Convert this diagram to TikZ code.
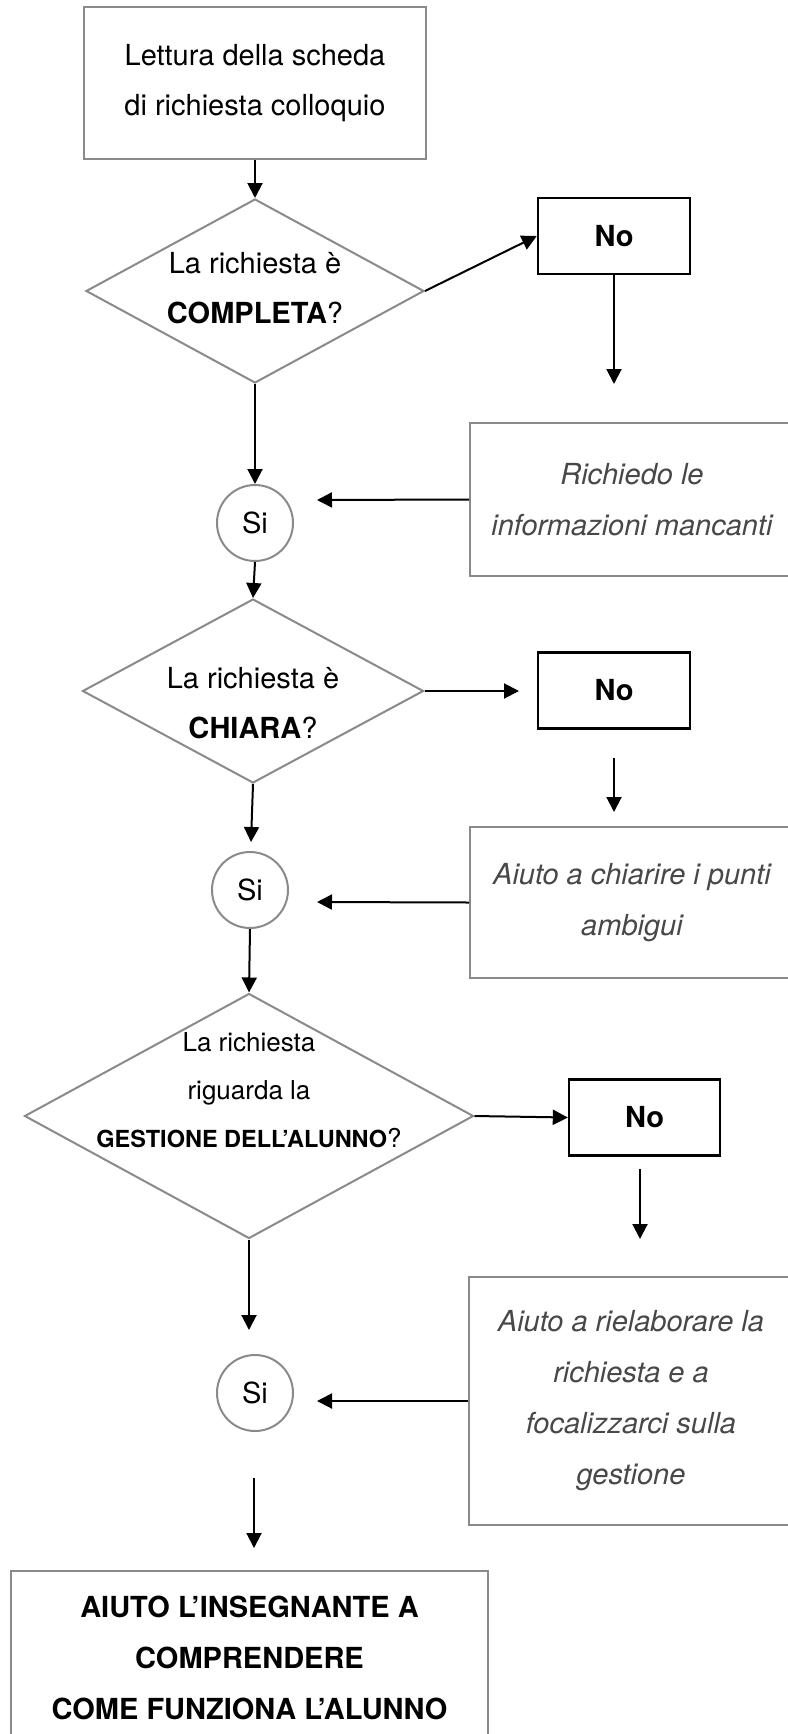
\documentclass[tikz,border=0pt]{standalone}
\usepackage{fontspec}
\setmainfont{TeX Gyre Heros}
\usetikzlibrary{shapes.geometric,arrows.meta,positioning}

\definecolor{boxgray}{RGB}{138,138,142}
\definecolor{notegray}{RGB}{72,72,72}

\tikzset{
  base/.style={font=\fontsize{14.5pt}{25pt}\selectfont, align=center, inner sep=0pt},
  box/.style={base, rectangle, draw=boxgray, line width=1pt},
  nobox/.style={base, rectangle, draw=black, line width=1.2pt,
    minimum width=76pt, minimum height=38pt,
    font=\fontsize{14.5pt}{25pt}\selectfont\bfseries},
  note/.style={box, text=notegray, minimum width=162pt,
    font=\fontsize{14.5pt}{25.5pt}\selectfont\itshape},
  decision/.style={diamond, draw=boxgray, line width=1pt, inner sep=0pt},
  answer/.style={base, circle, draw=boxgray, line width=1pt, minimum size=38pt},
  flow/.style={-{Triangle[length=7.5pt,width=7.5pt]}, line width=1pt},
}

\begin{document}
\begin{tikzpicture}[x=0.5pt, y=-0.5pt]
    \useasboundingbox (0,0) rectangle (787,1734);
    % start
    \node[box, minimum width=171pt, minimum height=76pt] (lettura) at (255,83)
        {Lettura della scheda\\di richiesta colloquio};
    % first question
    \node[decision, minimum width=169pt, minimum height=92pt] (completa) at (255,291) {};
    \node[base] (completa-q) at (255,288) {La richiesta è\\\textbf{COMPLETA}?};
    \node[nobox] (no1) at (614,236) {No};
    \node[note, minimum height=76.5pt] (richiedo) at (632,499.5)
        {Richiedo le\\informazioni mancanti};
    \node[answer] (si1) at (255,523) {Si};
    \coordinate (no1-end) at (614,384);
    \coordinate (richiedo-end) at (317,500);
    \draw[flow] (lettura.south) -- (completa.north);
    \draw[flow] (completa.east) -- (no1.west);
    \draw[flow] (no1.south) -- (no1-end);
    \draw[flow] (richiedo.west) -- (richiedo-end);
    \draw[flow] (completa.south) -- (si1.north);
    % second question
    \node[decision, minimum width=170.5pt, minimum height=92pt] (chiara) at (253,691) {};
    \node[base] (chiara-q) at (253,703) {La richiesta è\\\textbf{CHIARA}?};
    \node[nobox] (no2) at (614,690.5) {No};
    \node[note, minimum height=75.5pt] (chiarire) at (632,902.5)
        {Aiuto a chiarire i punti\\ambigui};
    \node[answer] (si2) at (250,890) {Si};
    \coordinate (no2-end) at (519,691);
    \coordinate (no2-a) at (614,758);
    \coordinate (no2-b) at (614,812);
    \coordinate (chiarire-end) at (317,902);
    \coordinate (chiara-end) at (251,842);
    \draw[flow] (si1.south) -- (chiara.north);
    \draw[flow] (chiara.east) -- (no2-end);
    \draw[flow] (no2-a) -- (no2-b);
    \draw[flow] (chiarire.west) -- (chiarire-end);
    \draw[flow] (chiara.south) -- (chiara-end);
    % third question
    \node[decision, minimum width=224.5pt, minimum height=122.5pt] (gestione) at (249,1116) {};
    \node[base, font=\fontsize{13pt}{24pt}\selectfont] (gestione-q) at (249,1090)
        {La richiesta\\riguarda la\\{\fontsize{11.75pt}{24pt}\selectfont\bfseries GESTIONE DELL’ALUNNO}?};
    \node[nobox, minimum width=75.5pt] (no3) at (644.5,1117.5) {No};
    \node[note, minimum height=124pt] (rielaborare) at (631,1401)
        {Aiuto a rielaborare la\\richiesta e a\\focalizzarci sulla\\gestione};
    \node[answer] (si3) at (255,1393) {Si};
    \coordinate (no3-a) at (640,1169);
    \coordinate (no3-b) at (640,1239);
    \coordinate (rielaborare-end) at (317,1401);
    \coordinate (gestione-end) at (249,1330);
    \draw[flow] (si2.south) -- (gestione.north);
    \draw[flow] (gestione.east) -- (no3.west);
    \draw[flow] (no3-a) -- (no3-b);
    \draw[flow] (rielaborare.west) -- (rielaborare-end);
    \draw[flow] (gestione.south) -- (gestione-end);
    % end
    \node[box, minimum width=238.5pt, minimum height=87pt,
        font=\fontsize{14.5pt}{25.5pt}\selectfont\bfseries] (comprendere) at (249.5,1658)
        {AIUTO L’INSEGNANTE A\\COMPRENDERE\\COME FUNZIONA L’ALUNNO};
    \coordinate (si3-a) at (254,1478);
    \coordinate (si3-b) at (254,1548);
    \draw[flow] (si3-a) -- (si3-b);
\end{tikzpicture}
\end{document}
